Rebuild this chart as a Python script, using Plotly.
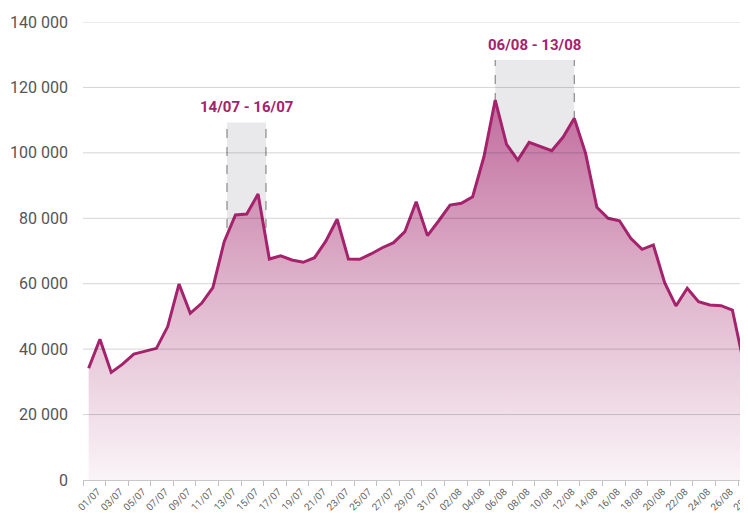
import plotly.graph_objects as go

dates = [
    "01/07", "02/07", "03/07", "04/07", "05/07", "06/07", "07/07", "08/07", "09/07", "10/07",
    "11/07", "12/07", "13/07", "14/07", "15/07", "16/07", "17/07", "18/07", "19/07", "20/07",
    "21/07", "22/07", "23/07", "24/07", "25/07", "26/07", "27/07", "28/07", "29/07", "30/07",
    "31/07", "01/08", "02/08", "03/08", "04/08", "05/08", "06/08", "07/08", "08/08", "09/08",
    "10/08", "11/08", "12/08", "13/08", "14/08", "15/08", "16/08", "17/08", "18/08", "19/08",
    "20/08", "21/08", "22/08", "23/08", "24/08", "25/08", "26/08", "27/08", "28/08", "29/08",
]
values = [
    34150, 43000, 32900, 35400, 38500, 39400, 40250, 46900, 59900, 50950,
    54000, 58800, 72850, 81000, 81300, 87400, 67550, 68550, 67250, 66550,
    67950, 73000, 79700, 67550, 67450, 69100, 71000, 72550, 75900, 85050,
    74700, 79250, 84050, 84600, 86600, 98800, 116150, 102600, 97800, 103200,
    101900, 100650, 104750, 110550, 99850, 83350, 80000, 79250, 73900, 70500,
    71850, 60300, 53200, 58600, 54500, 53500, 53300, 51950, 35650, 34500,
]
x_tick_labels = dates[0:59:2]
y_ticks = [0, 20000, 40000, 60000, 80000, 100000, 120000, 140000]

periods = [
    ("14/07 - 16/07", "14/07", "16/07", 109300),
    ("06/08 - 13/08", "06/08", "13/08", 128400),
]
period_pad = [(-0.75, 0.7), (0.0, 0.0)]

LINE = "#a5226c"
TXT = "#a5226c"

fig = go.Figure()
fig.add_trace(go.Scatter(
    x=dates, y=values, mode="lines",
    line=dict(color=LINE, width=3),
    fill="tozeroy",
    fillgradient=dict(type="vertical", start=0, stop=max(values),
                      colorscale=[[0, "#faf4f7"], [0.5, "#dfb5cc"], [1, "#c16d9e"]]),
    hoverinfo="x+y", showlegend=False,
))

shapes = []
annotations = []
for (label, d0, d1, top), (p0, p1) in zip(periods, period_pad):
    x0 = dates.index(d0) + p0
    x1 = dates.index(d1) + p1
    shapes.append(dict(type="rect", xref="x", yref="y", x0=x0, x1=x1, y0=0, y1=top,
                       fillcolor="#e9e9ec", line=dict(width=0), layer="below"))
    for xv in (x0, x1):
        shapes.append(dict(type="line", xref="x", yref="y", x0=xv, x1=xv, y0=0, y1=top,
                           line=dict(color="#8a8a8a", width=1.2, dash="dash"), layer="below"))
    annotations.append(dict(x=(x0 + x1) / 2, y=top + 4600, xref="x", yref="y",
                            text=label, showarrow=False, yanchor="middle",
                            font=dict(family="Roboto", size=15, color=TXT, weight="bold")))

for v in y_ticks[1:]:
    shapes.append(dict(type="line", xref="paper", yref="y", x0=0, x1=1, y0=v, y1=v,
                       line=dict(color="rgba(0,0,0,0.17)", width=1), layer="above"))

# the page body has an 8px default margin, so the figure is sized 8px smaller
fig.update_layout(
    width=740, height=505,
    margin=dict(l=75, r=0, t=14, b=33),
    paper_bgcolor="white", plot_bgcolor="white",
    separators=", ",
    font=dict(family="Roboto", color="#555555"),
    shapes=shapes, annotations=annotations,
    xaxis=dict(
        type="category", categoryorder="array", categoryarray=dates,
        range=[-0.5, 58.38], tickmode="array", tickvals=x_tick_labels,
        tickson="boundaries", ticks="outside", ticklen=5, tickcolor="#c0c0c0",
        showline=True, linecolor="#c8c8c8", linewidth=1,
        showgrid=False, zeroline=False, tickangle=-45,
        ticklabelshift=9, ticklabelstandoff=1,
        tickfont=dict(family="Roboto", size=10, color="#666666"),
        automargin=False, fixedrange=True,
    ),
    yaxis=dict(
        range=[0, 140000], tickmode="array", tickvals=y_ticks,
        tickformat=",d", showgrid=False, zeroline=False, showline=False,
        ticks="", ticklabelstandoff=14,
        tickfont=dict(family="Roboto", size=16, color="#555555"),
        automargin=False, fixedrange=True,
    ),
)

fig.write_html("out.html")
